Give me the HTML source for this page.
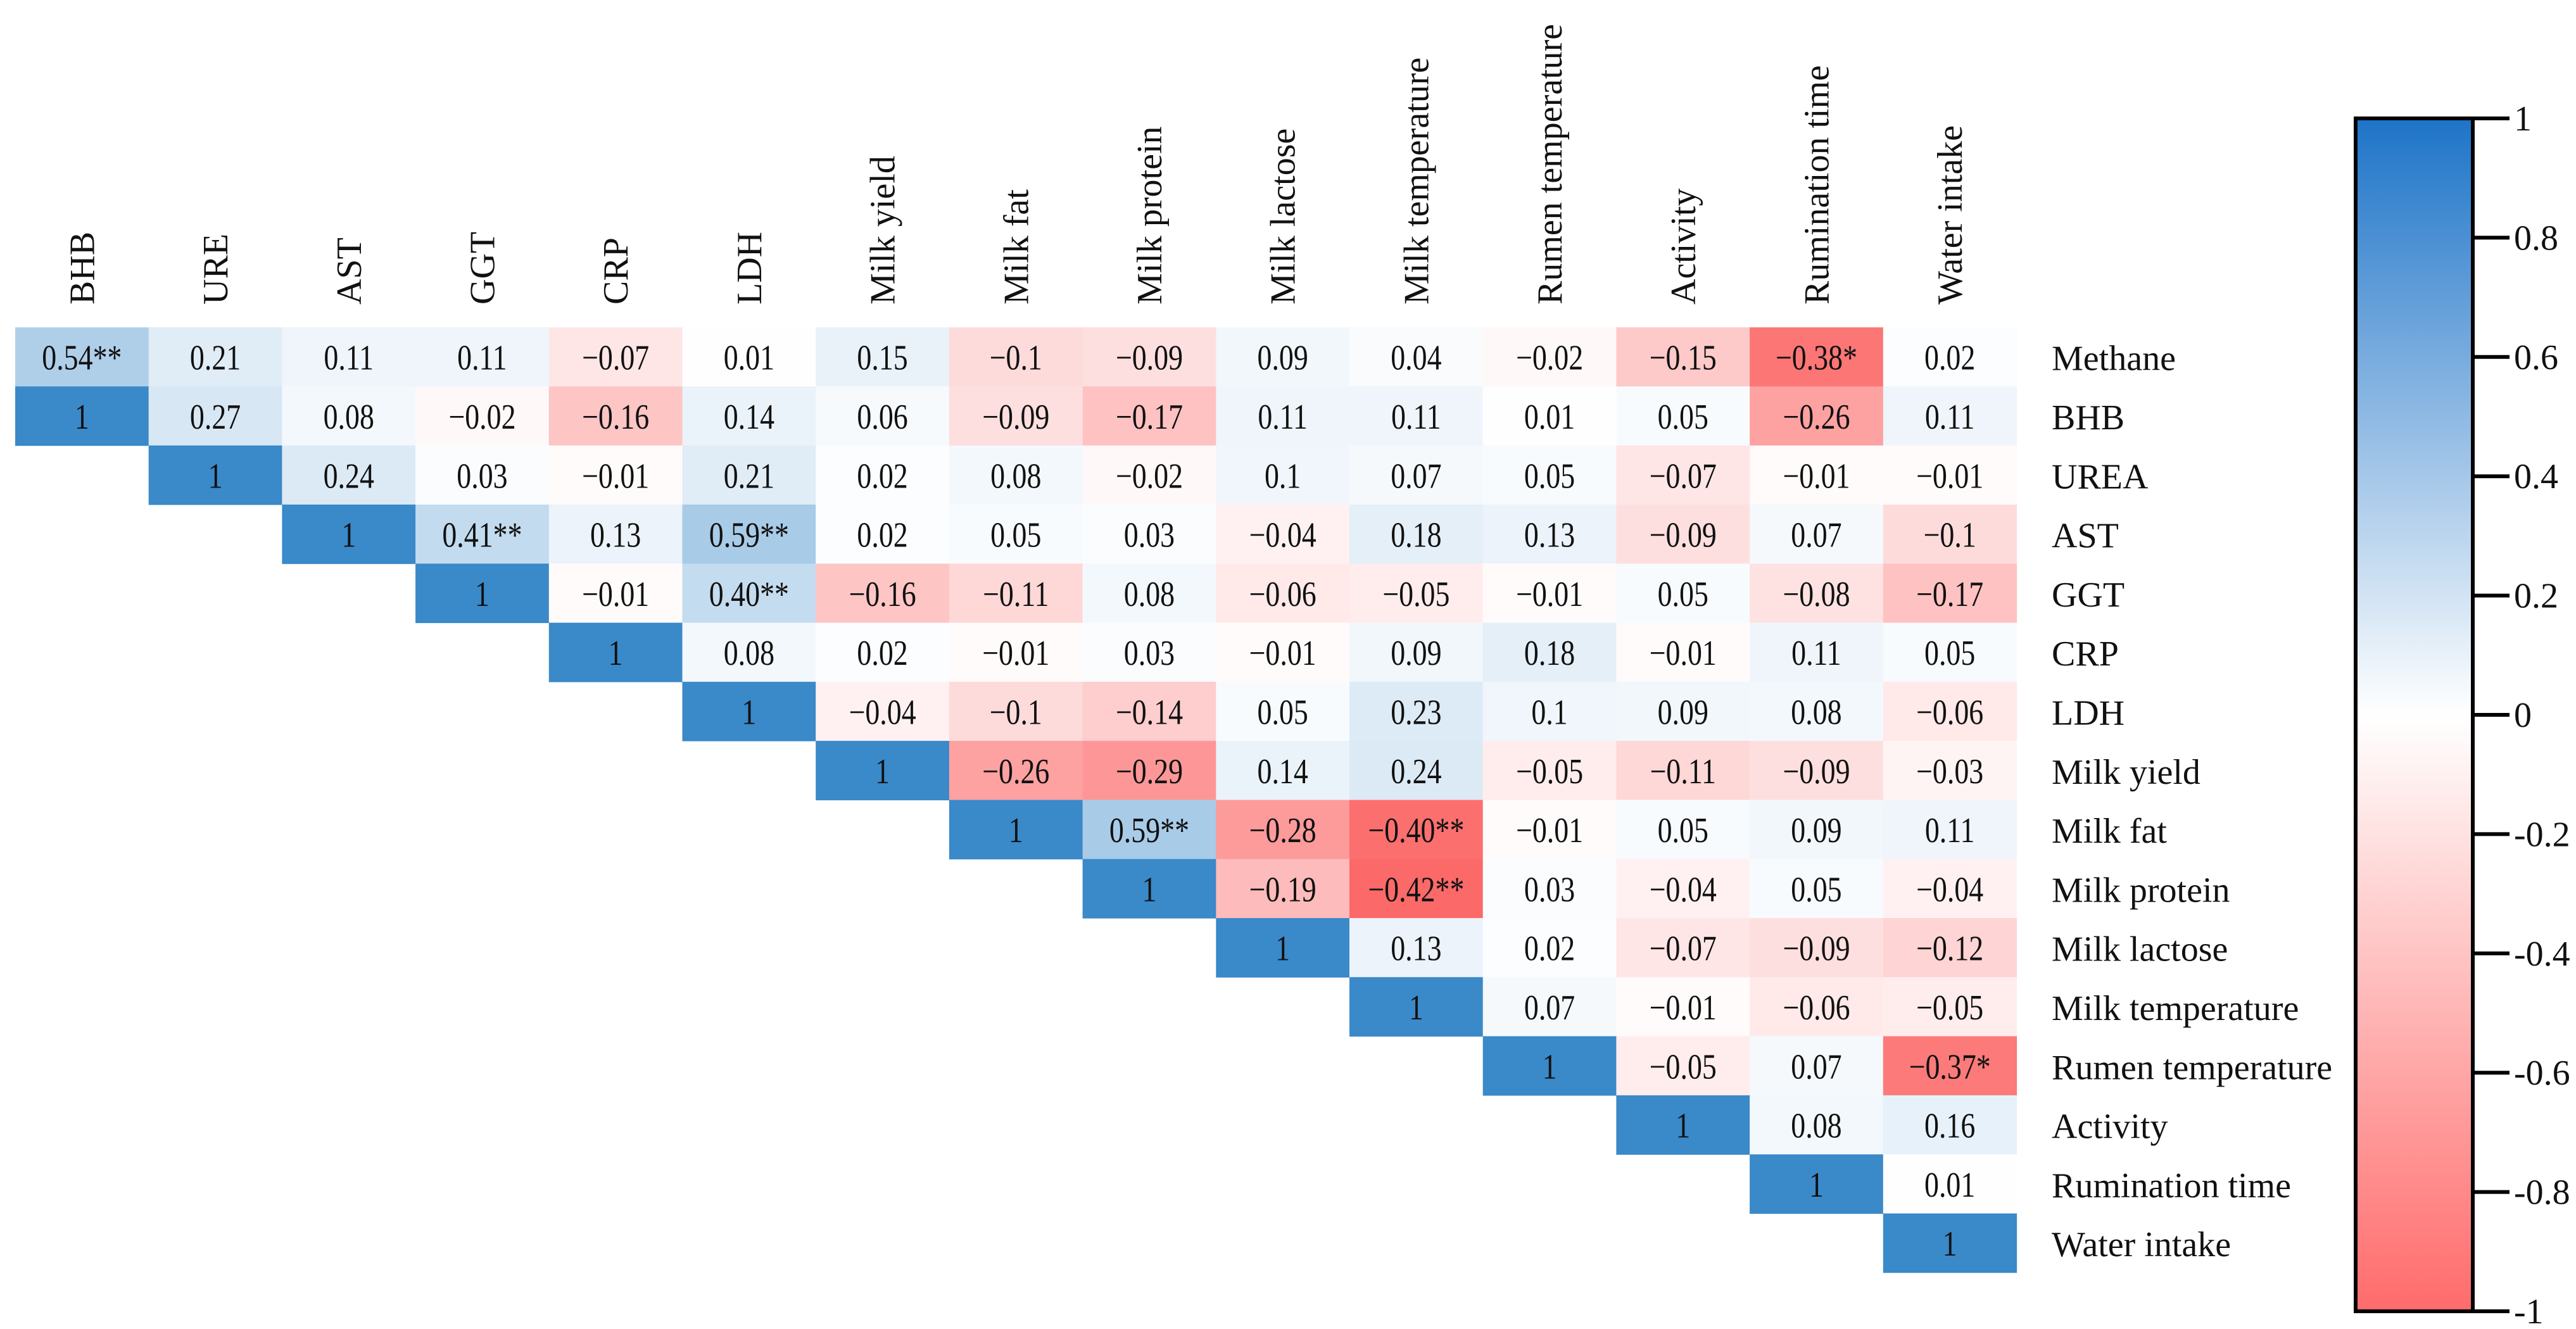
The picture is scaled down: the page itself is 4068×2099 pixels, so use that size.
<!DOCTYPE html>
<html><head><meta charset="utf-8"><style>
html,body{margin:0;padding:0;background:#fff;}
svg{display:block;}
text{font-family:"Liberation Serif",serif;fill:#111;}
</style></head><body>
<svg id="chart" width="4068" height="2099" viewBox="0 0 4068 2099" xmlns="http://www.w3.org/2000/svg">
<defs>
<linearGradient id="cbg" x1="0" y1="0" x2="0" y2="1">
<stop offset="0" stop-color="#1e74c8"/>
<stop offset="0.5" stop-color="#ffffff"/>
<stop offset="1" stop-color="#ff6b6b"/>
</linearGradient>
</defs>
<g id="cells"></g>
<g id="collabels"></g>
<g id="rowlabels"></g>
<g id="colorbar">
<rect x="3720" y="187" width="185" height="1884" fill="url(#cbg)" stroke="#000" stroke-width="6"/>
</g>
</svg>
<script>
const colLabels = ["BHB","URE","AST","GGT","CRP","LDH","Milk yield","Milk fat","Milk protein","Milk lactose","Milk temperature","Rumen temperature","Activity","Rumination time","Water intake"];
const rowLabels = ["Methane","BHB","UREA","AST","GGT","CRP","LDH","Milk yield","Milk fat","Milk protein","Milk lactose","Milk temperature","Rumen temperature","Activity","Rumination time","Water intake"];
const row0 = ["0.54**","0.21","0.11","0.11","−0.07","0.01","0.15","−0.1","−0.09","0.09","0.04","−0.02","−0.15","−0.38*","0.02"];
const row1 = ["1","0.27","0.08","−0.02","−0.16","0.14","0.06","−0.09","−0.17","0.11","0.11","0.01","0.05","−0.26","0.11"];
const row2 = ["1","0.24","0.03","−0.01","0.21","0.02","0.08","−0.02","0.1","0.07","0.05","−0.07","−0.01","−0.01"];
const row3 = ["1","0.41**","0.13","0.59**","0.02","0.05","0.03","−0.04","0.18","0.13","−0.09","0.07","−0.1"];
const row4 = ["1","−0.01","0.40**","−0.16","−0.11","0.08","−0.06","−0.05","−0.01","0.05","−0.08","−0.17"];
const row5 = ["1","0.08","0.02","−0.01","0.03","−0.01","0.09","0.18","−0.01","0.11","0.05"];
const row6 = ["1","−0.04","−0.1","−0.14","0.05","0.23","0.1","0.09","0.08","−0.06"];
const row7 = ["1","−0.26","−0.29","0.14","0.24","−0.05","−0.11","−0.09","−0.03"];
const row8 = ["1","0.59**","−0.28","−0.40**","−0.01","0.05","0.09","0.11"];
const row9 = ["1","−0.19","−0.42**","0.03","−0.04","0.05","−0.04"];
const row10 = ["1","0.13","0.02","−0.07","−0.09","−0.12"];
const row11 = ["1","0.07","−0.01","−0.06","−0.05"];
const row12 = ["1","−0.05","0.07","−0.37*"];
const row13 = ["1","0.08","0.16"];
const row14 = ["1","0.01"];
const row15 = ["1"];
const rows = [row0,row1,row2,row3,row4,row5,row6,row7,row8,row9,row10,row11,row12,row13,row14,row15];
const cbTicks = [1,0.8,0.6,0.4,0.2,0,-0.2,-0.4,-0.6,-0.8,-1];

const NS="http://www.w3.org/2000/svg";
const X0=24, CW=210.7, Y0=517, RH=93.3;
const xCol = c => X0 + c*CW;
const yRow = r => Y0 + r*RH;
const cbTop=187, cbBot=2071;
const yCb = v => cbTop + (1-v)/2*(cbBot-cbTop);
function mk(tag, attrs, parent){const e=document.createElementNS(NS,tag);for(const k in attrs)e.setAttribute(k,attrs[k]);parent.appendChild(e);return e;}
function parseVal(s){return parseFloat(s.replace("−","-").replace(/\*/g,""));}
function color(v){
  if(v>=0){const t=v>=1?1:Math.min(1,v*0.75);
    return `rgb(${Math.round(255-t*197)},${Math.round(255-t*118)},${Math.round(255-t*54)})`;}
  const t=Math.min(1,-v*2.4);
  return `rgb(${Math.round(255-t*3)},${Math.round(255-t*150)},${Math.round(255-t*150)})`;
}
const cells=document.getElementById('cells');
rows.forEach((row,r)=>{
  const start = r===0?0:r-1;
  row.forEach((s,k)=>{
    const c=start+k, v=parseVal(s);
    const rect=mk('rect',{x:xCol(c),y:yRow(r),width:CW+0.6,height:RH+0.6,fill:color(v)},cells);
    
    
    const cx=xCol(c)+CW/2, cy=yRow(r)+RH/2+20;
    const t=mk('text',{transform:`translate(${cx},${cy}) scale(0.82,1)`,'text-anchor':'middle','font-size':56},cells);
    t.textContent=s;
    
    
  });
});
const cl=document.getElementById('collabels');
colLabels.forEach((s,c)=>{
  const cx=xCol(c)+CW/2+19;
  const t=mk('text',{transform:`translate(${cx},481) rotate(-90)`,'font-size':56},cl);
  t.textContent=s;
  
  
});
const rl=document.getElementById('rowlabels');
rowLabels.forEach((s,r)=>{
  const t=mk('text',{x:3240,y:yRow(r)+RH/2+21,'font-size':56},rl);
  t.textContent=s;
  
  
});
const cb=document.getElementById('colorbar');
cbTicks.forEach(v=>{
  const y=yCb(v);
  const l=mk('line',{x1:3905,x2:3963,y1:y,y2:y,stroke:'#000','stroke-width':6},cb);
  
  
  const t=mk('text',{x:3970,y:y+19,'font-size':56},cb);
  t.textContent=String(v);
  
  
});
</script>
</body></html>
